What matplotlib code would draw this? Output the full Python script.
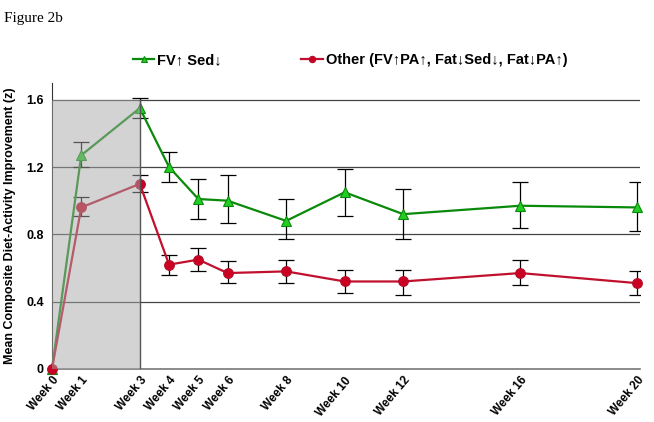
import numpy as np
from matplotlib import pyplot as plt

# weeks and means
weeks = [0, 1, 3, 4, 5, 6, 8, 10, 12, 16, 20]
week_labels = ["Week 0", "Week 1", "Week 3", "Week 4", "Week 5", "Week 6",
               "Week 8", "Week 10", "Week 12", "Week 16", "Week 20"]

fv_mean = [0.0, 1.27, 1.55, 1.20, 1.01, 1.00, 0.88, 1.05, 0.92, 0.97, 0.96]
fv_low = [0.0, 1.20, 1.49, 1.11, 0.89, 0.87, 0.77, 0.91, 0.77, 0.84, 0.82]
fv_high = [0.0, 1.35, 1.61, 1.29, 1.13, 1.15, 1.01, 1.19, 1.07, 1.11, 1.11]

other_mean = [0.0, 0.96, 1.10, 0.62, 0.65, 0.57, 0.58, 0.52, 0.52, 0.57, 0.51]
other_low = [0.0, 0.91, 1.05, 0.56, 0.58, 0.51, 0.51, 0.45, 0.44, 0.50, 0.44]
other_high = [0.0, 1.02, 1.15, 0.68, 0.72, 0.64, 0.65, 0.59, 0.59, 0.65, 0.58]

y_ticks = [0, 0.4, 0.8, 1.2, 1.6]
y_tick_labels = ["0", "0.4", "0.8", "1.2", "1.6"]

plt.rcParams['font.family'] = ['Liberation Sans', 'DejaVu Sans']

fig = plt.figure(figsize=(6.54, 4.22), dpi=100)
ax = fig.add_axes([0.0795, 0.1256, 0.8995, 0.678])

x = np.array(weeks)


def err(mean, low, high):
    mean, low, high = np.array(mean), np.array(low), np.array(high)
    return [mean - low, high - mean]


# error bars (skip week 0, which has none)
ax.errorbar(x[1:], np.array(fv_mean)[1:], yerr=[e[1:] for e in err(fv_mean, fv_low, fv_high)],
            fmt='none', ecolor='black', elinewidth=0.9, capsize=6, capthick=0.9, zorder=3)
ax.errorbar(x[1:], np.array(other_mean)[1:], yerr=[e[1:] for e in err(other_mean, other_low, other_high)],
            fmt='none', ecolor='black', elinewidth=0.9, capsize=6, capthick=0.9, zorder=3)

ax.plot(x, fv_mean, color='#0a8a0a', lw=1.6, marker='^', ms=7,
        mfc='#22cc22', mec='#0a8a0a', mew=0.8, zorder=4, clip_on=False,
        label="FV\u2191 Sed\u2193")
ax.plot(x, other_mean, color='#c0102e', lw=1.6, marker='o', ms=7,
        mfc='#cc0022', mec='#b0102a', mew=0.8, zorder=4, clip_on=False,
        label="Other (FV\u2191PA\u2191, Fat\u2193Sed\u2193, Fat\u2193PA\u2191)")

# shaded first three weeks, drawn over the lines
ax.fill_between([0, 3], 0, 1.6, color='#a8a8a8', alpha=0.5, lw=0, zorder=5)
ax.plot([3, 3], [0, 1.6], color='#555555', lw=1.0, zorder=5)

for yv in y_ticks[1:]:
    ax.axhline(yv, color='#444444', lw=0.9, zorder=1)

ax.set_xlim(0, 20.1)
ax.set_ylim(0, 1.70)
ax.set_yticks(y_ticks)
ax.set_yticklabels(y_tick_labels, fontweight='bold', fontsize=9)
ax.set_xticks(weeks)
ax.set_xticklabels(week_labels, rotation=50, ha='right', rotation_mode='anchor',
                   fontweight='bold', fontsize=8.5)
ax.tick_params(axis='both', length=0, pad=6)
ax.tick_params(axis='x', pad=4)

for s in ['top', 'right']:
    ax.spines[s].set_visible(False)
ax.spines['left'].set_color('#333333')
ax.spines['bottom'].set_color('#777777')
ax.spines['bottom'].set_linewidth(1.2)

ax.set_ylabel("Mean Composite Diet-Activity Improvement (z)", fontweight='bold', fontsize=9)
ax.yaxis.set_label_coords(-0.062, 0.5)

leg = fig.legend(loc='center', bbox_to_anchor=(0.535, 0.858), ncol=2, frameon=False,
                 prop={'weight': 'bold', 'size': 10.5}, handlelength=1.5,
                 handletextpad=0.15, columnspacing=5.5, markerscale=0.65)

fig.text(0.006, 0.972, "Figure 2b", family='Liberation Serif', fontsize=11, va='top')

fig.savefig("out.png", dpi=100)
